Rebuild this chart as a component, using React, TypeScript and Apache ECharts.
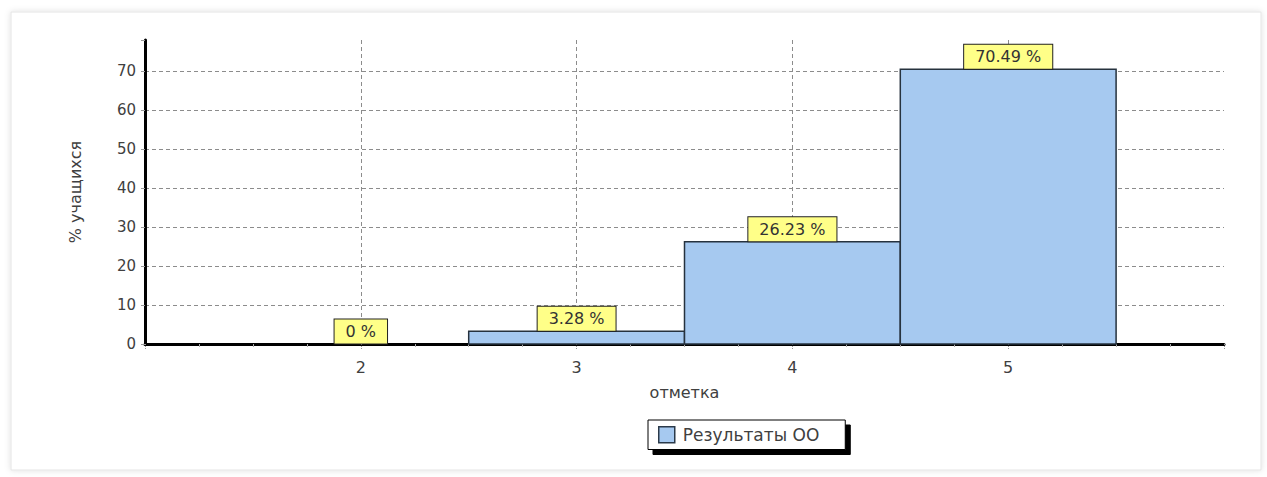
import React, { useEffect, useRef } from "react";
import * as echarts from "echarts";

const grades = [2, 3, 4, 5];
const percents = [0, 3.28, 26.23, 70.49];
const seriesName = "Результаты ОО";
const xTitle = "отметка";
const yTitle = "% учащихся";

const FONT = "DejaVu Sans";
const TEXT_COLOR = "#404040";

export default function App() {
  const ref = useRef<HTMLDivElement>(null);

  useEffect(() => {
    if (!ref.current) return;
    const chart = echarts.init(ref.current, undefined, { renderer: "svg" });
    const data = grades.map((g, i) => [g, percents[i]]);

    chart.setOption({
      animation: false,
      backgroundColor: "#ffffff",
      textStyle: { fontFamily: FONT },
      graphic: [
        {
          type: "rect",
          z: -10,
          shape: { x: 11, y: 12, width: 1250, height: 458 },
          style: {
            fill: "#ffffff",
            stroke: "#e4e4e4",
            lineWidth: 1,
            shadowBlur: 6,
            shadowColor: "rgba(0,0,0,0.12)",
          },
        },
      ],
      grid: { left: 145, right: 43, top: 40, bottom: 133 },
      legend: {
        data: [seriesName],
        left: 648,
        top: 420,
        orient: "horizontal",
        padding: [6, 26, 6, 10],
        backgroundColor: "#ffffff",
        borderColor: "#000000",
        borderWidth: 1,
        borderRadius: 0,
        shadowColor: "#000000",
        shadowBlur: 0,
        shadowOffsetX: 5,
        shadowOffsetY: 5,
        itemWidth: 16,
        itemHeight: 16,
        icon: "rect",
        itemStyle: { color: "#a6c9f0", borderColor: "#2b3a4a", borderWidth: 1.5 },
        textStyle: { fontFamily: FONT, fontSize: 17, color: TEXT_COLOR, padding: [0, 0, 0, 3] },
      },
      xAxis: {
        type: "value",
        min: 1,
        max: 6,
        interval: 1,
        name: xTitle,
        nameLocation: "middle",
        nameGap: 40,
        nameTextStyle: { fontFamily: FONT, fontSize: 16, color: TEXT_COLOR },
        axisLine: { show: true, onZero: true, lineStyle: { color: "#000000", width: 3 } },
        axisTick: { show: true, length: 6, lineStyle: { color: "#999999", type: "dotted" } },
        minorTick: { show: true, splitNumber: 4, length: 3, lineStyle: { color: "#aaaaaa" } },
        axisLabel: {
          fontFamily: FONT,
          fontSize: 16,
          color: TEXT_COLOR,
          margin: 15,
          formatter: (v: number) => (grades.indexOf(v) >= 0 ? String(v) : ""),
        },
        splitLine: {
          show: true,
          showMinLine: false,
          showMaxLine: false,
          lineStyle: { color: "#8c8c8c", type: [4, 3], width: 1 },
        },
      },
      yAxis: {
        type: "value",
        min: 0,
        max: 78,
        interval: 10,
        name: yTitle,
        nameLocation: "middle",
        nameRotate: 90,
        nameGap: 62,
        nameTextStyle: { fontFamily: FONT, fontSize: 16, color: TEXT_COLOR },
        axisLine: { show: true, lineStyle: { color: "#000000", width: 3 } },
        axisTick: { show: true, length: 4, lineStyle: { color: "#999999" } },
        axisLabel: {
          fontFamily: FONT,
          fontSize: 15,
          color: TEXT_COLOR,
          margin: 9,
          formatter: (v: number) => (v % 10 === 0 ? String(v) : ""),
        },
        splitLine: {
          show: true,
          showMinLine: false,
          showMaxLine: false,
          lineStyle: { color: "#8c8c8c", type: [4, 3], width: 1 },
        },
      },
      series: [
        {
          type: "custom",
          name: seriesName,
          data,
          itemStyle: { color: "#a6c9f0" },
          z: 3,
          renderItem: (params: any, api: any) => {
            const x = api.value(0);
            const y = api.value(1);
            const p0 = api.coord([x - 0.5, 0]);
            const p1 = api.coord([x + 0.5, y]);
            const children: any[] = [];
            if (y > 0) {
              children.push({
                type: "rect",
                shape: { x: p0[0], y: p1[1], width: p1[0] - p0[0], height: p0[1] - p1[1] },
                style: { fill: "#a6c9f0", stroke: "#26323e", lineWidth: 1.5 },
              });
            }
            children.push({
              type: "text",
              x: (p0[0] + p1[0]) / 2,
              y: p1[1] - 0.5,
              z2: 10,
              style: {
                text: `${y} %`,
                align: "center",
                verticalAlign: "bottom",
                fontFamily: FONT,
                fontSize: 16,
                fill: "#333333",
                backgroundColor: "#ffff88",
                borderColor: "#222222",
                borderWidth: 1,
                padding: [4, 11, 4, 11],
              },
            });
            return { type: "group", children };
          },
        },
      ],
    });

    return () => chart.dispose();
  }, []);

  return (
    <div
      ref={ref}
      style={{ position: "absolute", left: 0, top: 0, width: 1267, height: 477, background: "#fff" }}
    />
  );
}
